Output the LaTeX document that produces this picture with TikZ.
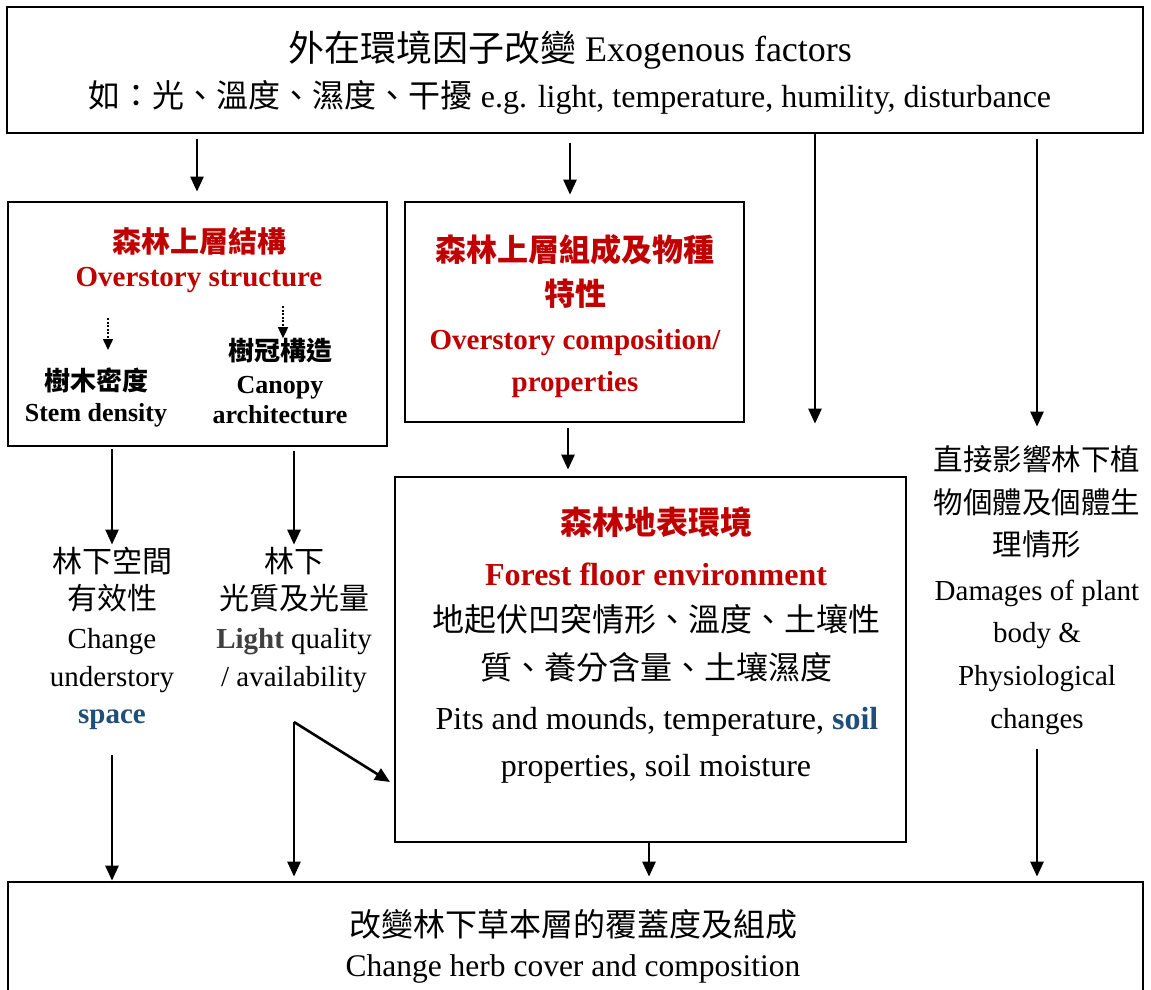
\documentclass[tikz,border=0pt]{standalone}
\usepackage{fontspec}
\setmainfont{Liberation Serif}
\newfontfamily\cjk{Noto Sans CJK TC}
\usetikzlibrary{arrows.meta}
\definecolor{tred}{HTML}{C00000}
\definecolor{tblue}{HTML}{1F4E79}
\definecolor{tgray}{HTML}{404040}
\newcommand\tline[5]{\node[anchor=base,inner sep=0pt] (#1) at (#2,{#3+0.37*#4}) {\fontsize{#4}{#4}\selectfont #5};}
\tikzset{
  box/.style={draw=black, line width=2.7pt, fill=none, inner sep=0pt},
  arr/.style={line width=2.6pt, -{Triangle[length=15pt,width=13pt]}},
  darr/.style={line width=1.6pt, dash pattern=on 2pt off 1.5pt, -{Triangle[length=11pt,width=10pt]}},
  plain/.style={line width=2.6pt}
}
\begin{document}
\begin{tikzpicture}[x=1pt,y=-1pt]
\clip (0,0) rectangle (1151,990);
\fill[white] (0,0) rectangle (1151,990);
% boxes
\node[box, minimum width=1136pt, minimum height=126pt] (top) at (575,70) {};
\node[box, minimum width=379pt, minimum height=244pt] (A) at (197.5,324) {};
\node[box, minimum width=339pt, minimum height=220pt] (B) at (574.5,312) {};
\node[box, minimum width=511pt, minimum height=365pt] (C) at (650.5,659.5) {};
\node[box, minimum width=1135pt, minimum height=130pt] (bot) at (575.5,947) {};
% top text
\tline{t1}{570}{48}{36}{{\cjk 外在環境因子改變} Exogenous factors}
\tline{t2}{570}{96}{32}{{\cjk 如：光、溫度、濕度、干擾} e.g. light, temperature, humility, disturbance}
% box A
\tline{a1}{199}{242}{29}{\color{tred}\cjk\bfseries 森林上層結構}
\tline{a2}{199}{276}{29}{\color{tred}\bfseries Overstory structure}
\tline{s1}{96}{381}{26}{\cjk\bfseries 樹木密度}
\tline{s2}{96}{412}{26}{\bfseries Stem density}
\tline{c1}{280}{351}{26}{\cjk\bfseries 樹冠構造}
\tline{c2}{280}{384}{26}{\bfseries Canopy}
\tline{c3}{280}{414}{26}{\bfseries architecture}
% box B
\tline{b1}{575}{250}{31}{\color{tred}\cjk\bfseries 森林上層組成及物種}
\tline{b2}{575}{294}{31}{\color{tred}\cjk\bfseries 特性}
\tline{b3}{575}{339}{29}{\color{tred}\bfseries Overstory composition/}
\tline{b4}{575}{381}{29}{\color{tred}\bfseries properties}
% box C
\tline{f1}{656}{523}{32}{\color{tred}\cjk\bfseries 森林地表環境}
\tline{f2}{656}{574}{32}{\color{tred}\bfseries Forest floor environment}
\tline{f3}{656}{620}{32}{\cjk 地起伏凹突情形、溫度、土壤性}
\tline{f4}{656}{668}{32}{\cjk 質、養分含量、土壤濕度}
\tline{f5}{657}{718}{32}{Pits and mounds, temperature, {\color{tblue}\bfseries soil}}
\tline{f6}{656}{765}{32}{properties, soil moisture}
% left column
\tline{l1}{112}{561}{30}{\cjk 林下空間}
\tline{l2}{112}{598}{30}{\cjk 有效性}
\tline{l3}{112}{638}{29}{Change}
\tline{l4}{112}{676}{29}{understory}
\tline{l5}{112}{713}{29}{\color{tblue}\bfseries space}
% middle column
\tline{m1}{294}{561}{30}{\cjk 林下}
\tline{m2}{294}{598}{30}{\cjk 光質及光量}
\tline{m3}{294}{638}{29}{{\color{tgray}\bfseries Light} quality}
\tline{m4}{294}{676}{29}{/ availability}
% right column
\tline{r1}{1037}{460}{29.5}{\cjk 直接影響林下植}
\tline{r2}{1037}{503}{29.5}{\cjk 物個體及個體生}
\tline{r3}{1037}{545}{29.5}{\cjk 理情形}
\tline{r4}{1037}{590}{29}{Damages of plant}
\tline{r5}{1037}{632}{29}{body \&}
\tline{r6}{1037}{675}{29}{Physiological}
\tline{r7}{1037}{718}{29}{changes}
% bottom text
\tline{h1}{573}{925}{32}{\cjk 改變林下草本層的覆蓋度及組成}
\tline{h2}{573}{965}{31.5}{Change herb cover and composition}
% helper coordinates
\coordinate (x197) at (197,0);
\coordinate (x570) at (570,0);
\coordinate (x815) at (815,0);
\coordinate (x1037) at (1037,0);
\coordinate (x568) at (568,0);
\coordinate (x112) at (112,0);
\coordinate (x294) at (294,0);
\coordinate (x649) at (649,0);
\coordinate (fork) at (294,722);
\coordinate (d1) at (108,318);
\coordinate (d2) at (283,306);
\coordinate (intoC) at (390,782);
\coordinate (lstart) at (112,755);
% arrows
\draw[arr, shorten <=5pt, shorten >=9pt] (top.south -| x197) -- (A.north -| x197);
\draw[arr, shorten <=9pt, shorten >=6pt] (top.south -| x570) -- (B.north -| x570);
\draw[arr, shorten >=52pt] (top.south -| x815) -- (C.north -| x815);
\draw[arr, shorten <=5pt, shorten >=19pt] (top.south -| x1037) -- (r1.north -| x1037);
\draw[arr, shorten <=5pt, shorten >=6pt] (B.south -| x568) -- (C.north -| x568);
\draw[arr, shorten <=2pt, shorten >=2pt] (A.south -| x112) -- (l1.north -| x112);
\draw[arr, shorten <=4pt, shorten >=2pt] (A.south -| x294) -- (m1.north -| x294);
\draw[arr] (lstart) -- (bot.north -| x112);
\draw[arr] (fork) -- ([yshift=4pt]bot.north -| x294);
\draw[arr] (fork) -- (intoC);
\draw[arr] (C.south -| x649) -- ([yshift=4pt]bot.north -| x649);
\draw[arr, shorten <=14pt] (r7.south -| x1037) -- ([yshift=4pt]bot.north -| x1037);
\draw[darr] (d1) -- (108,350);
\draw[darr] (d2) -- (c1.north -| d2);
\end{tikzpicture}
\end{document}
